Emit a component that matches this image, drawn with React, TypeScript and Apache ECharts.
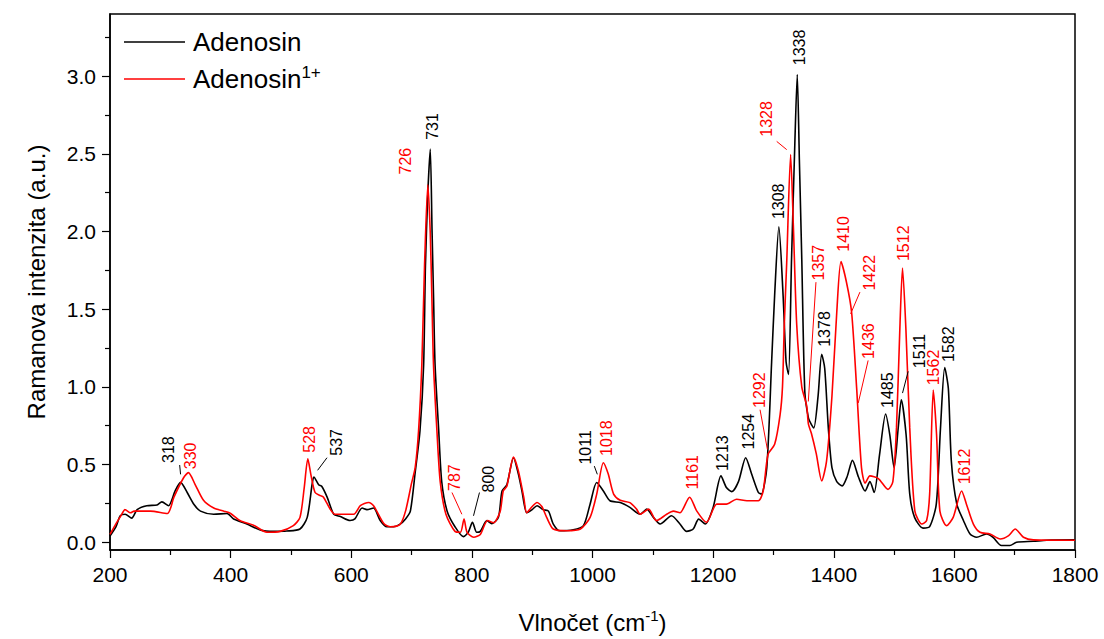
import React, { useEffect, useRef } from "react";
import * as echarts from "echarts";

// Raman spectra: [wavenumber (cm-1), intensity (a.u.)]
const adenosin: [number, number][] = [
  [200, 0.04], [210, 0.1], [217, 0.17], [225, 0.18], [236, 0.155], [245, 0.21], [261, 0.235], [278, 0.24],
  [286, 0.26], [297, 0.235], [308, 0.33], [317, 0.385], [328, 0.32], [339, 0.245], [350, 0.2], [372, 0.18],
  [394, 0.185], [405, 0.15], [427, 0.117], [449, 0.079], [471, 0.07], [493, 0.072], [515, 0.085], [527, 0.16],
  [535, 0.37], [538, 0.42], [546, 0.37], [551, 0.36], [560, 0.29], [571, 0.18], [582, 0.165], [598, 0.14],
  [606, 0.15], [618, 0.22], [626, 0.21], [637, 0.22], [648, 0.14], [659, 0.1], [670, 0.1], [681, 0.117],
  [690, 0.15], [698, 0.2], [706, 0.45], [714, 0.72], [720, 1.14], [723, 1.78], [727, 2.25], [731, 2.53],
  [734, 2.0], [736.5, 1.57], [739, 1.14], [745, 0.72], [750, 0.39], [759, 0.2], [772, 0.1], [786, 0.036],
  [794, 0.064], [801, 0.128], [808, 0.064], [814, 0.07], [825, 0.139], [833, 0.12], [844, 0.16], [850, 0.33],
  [858, 0.37], [869, 0.544], [877, 0.44], [883, 0.33], [891, 0.19], [900, 0.21], [908, 0.235], [918, 0.21],
  [927, 0.2], [935, 0.117], [946, 0.074], [968, 0.08], [985, 0.107], [996, 0.245], [1007, 0.384], [1018, 0.33],
  [1029, 0.267], [1046, 0.255], [1062, 0.224], [1079, 0.18], [1090, 0.213], [1101, 0.16], [1112, 0.117],
  [1131, 0.17], [1145, 0.117], [1156, 0.07], [1167, 0.085], [1176, 0.149], [1187, 0.117], [1200, 0.224],
  [1213, 0.427], [1222, 0.352], [1231, 0.326], [1242, 0.39], [1254, 0.544], [1264, 0.437], [1275, 0.32],
  [1280, 0.31], [1289, 0.48], [1297, 1.16], [1302, 1.59], [1309, 2.03], [1316, 1.59], [1321, 1.16],
  [1325, 1.08], [1330, 1.82], [1335.5, 2.57], [1339.5, 3.01], [1343, 2.46], [1347, 1.82], [1352, 0.97],
  [1358, 0.8], [1363, 0.757], [1367, 0.736], [1374, 0.94], [1380, 1.21], [1385, 1.12], [1391, 0.736],
  [1397, 0.48], [1405, 0.39], [1414, 0.363], [1422, 0.42], [1431, 0.527], [1441, 0.42], [1452, 0.33],
  [1460, 0.39], [1467, 0.32], [1476, 0.565], [1486, 0.825], [1493, 0.69], [1500, 0.48], [1507, 0.74],
  [1512, 0.917], [1520, 0.69], [1526, 0.31], [1534, 0.16], [1548, 0.091], [1559, 0.1], [1570, 0.245],
  [1577, 0.736], [1584, 1.124], [1590, 0.99], [1595, 0.52], [1604, 0.245], [1615, 0.14], [1626, 0.053],
  [1637, 0.032], [1653, 0.053], [1664, 0.032], [1678, -0.021], [1692, -0.021], [1703, 0], [1731, 0.006],
  [1753, 0.013], [1800, 0.015],
];

const adenosinCation: [number, number][] = [
  [200, 0.05], [210, 0.12], [218, 0.17], [225, 0.21], [234, 0.19], [240, 0.2], [267, 0.2], [295, 0.185],
  [306, 0.29], [322, 0.415], [330, 0.448], [341, 0.373], [355, 0.27], [372, 0.22], [389, 0.2], [400, 0.185],
  [416, 0.138], [438, 0.11], [460, 0.064], [482, 0.07], [504, 0.107], [515, 0.16], [522, 0.35], [528, 0.537],
  [533, 0.437], [540, 0.32], [549, 0.3], [554, 0.29], [565, 0.213], [573, 0.18], [604, 0.18], [615, 0.235],
  [629, 0.256], [637, 0.235], [654, 0.12], [665, 0.1], [681, 0.115], [690, 0.2], [700, 0.38], [706, 0.48],
  [711.5, 0.71], [717, 1.14], [721.5, 1.78], [727, 2.3], [731, 1.99], [733.7, 1.57], [736.4, 1.14],
  [742, 0.72], [747.5, 0.39], [757, 0.18], [772, 0.07], [781, 0.064], [787, 0.149], [792, 0.064],
  [803, 0.032], [814, 0.05], [826, 0.14], [836, 0.125], [847, 0.2], [852, 0.33], [858, 0.36], [869, 0.548],
  [877, 0.46], [886, 0.29], [891, 0.19], [900, 0.23], [908, 0.256], [916, 0.23], [924, 0.16], [935, 0.085],
  [957, 0.074], [980, 0.085], [996, 0.16], [1007, 0.31], [1018, 0.512], [1026, 0.44], [1035, 0.31],
  [1046, 0.27], [1062, 0.255], [1073, 0.213], [1079, 0.18], [1093, 0.213], [1106, 0.139], [1123, 0.18],
  [1134, 0.2], [1145, 0.19], [1161, 0.29], [1173, 0.2], [1189, 0.128], [1206, 0.245], [1222, 0.245],
  [1239, 0.277], [1256, 0.267], [1275, 0.267], [1283, 0.33], [1291, 0.565], [1302, 0.63], [1311, 0.82],
  [1315, 1.0], [1318, 1.4], [1322, 1.8], [1328.5, 2.495], [1333, 2.04], [1338.6, 1.4], [1347, 1.0],
  [1355, 0.88], [1358, 0.76], [1363, 0.7], [1371, 0.57], [1380, 0.395], [1388, 0.52], [1397, 0.94],
  [1405, 1.48], [1412, 1.806], [1421, 1.675], [1429.6, 1.48], [1438, 0.99], [1446, 0.48], [1452, 0.38],
  [1460, 0.427], [1474, 0.41], [1490, 0.34], [1498, 0.39], [1504, 0.736], [1509.6, 1.375], [1514, 1.764],
  [1519.6, 1.375], [1526, 0.736], [1534.5, 0.2], [1546, 0.117], [1554, 0.14], [1559, 0.31], [1565, 0.98],
  [1570.5, 0.69], [1576, 0.2], [1587, 0.107], [1598, 0.16], [1612, 0.33], [1620, 0.245], [1631.5, 0.117],
  [1642.5, 0.064], [1659, 0.053], [1676, 0.021], [1690, 0.043], [1701, 0.085], [1714.5, 0.032],
  [1731, 0.015], [1800, 0.013],
];

const yMajorTicks = [0, 0.5, 1.0, 1.5, 2.0, 2.5, 3.0];
const yMinorTicks = [0.25, 0.75, 1.25, 1.75, 2.25, 2.75, 3.25];

const seriesNames = ["Adenosin", "Adenosin1+"];
const BLACK = "#000000";
const RED = "#ff0000";

// Peak labels: text, colour, anchor (wavenumber, intensity), optional leader line
type Ann = { t: string; c: string; x: number; y: number; l?: [number, number, number, number] };
const annotations: Ann[] = [
  { t: "318", c: BLACK, x: 297.6, y: 0.51, l: [315.5, 0.497, 317, 0.437] },
  { t: "330", c: RED, x: 333, y: 0.47 },
  { t: "528", c: RED, x: 530.4, y: 0.576 },
  { t: "537", c: BLACK, x: 576, y: 0.557, l: [559.8, 0.544, 544.2, 0.463] },
  { t: "726", c: RED, x: 690.6, y: 2.367 },
  { t: "731", c: BLACK, x: 734.7, y: 2.59 },
  { t: "787", c: RED, x: 770.7, y: 0.33, l: [767, 0.32, 783.4, 0.18] },
  { t: "800", c: BLACK, x: 827.5, y: 0.32, l: [812.6, 0.32, 802.7, 0.17] },
  { t: "1011", c: BLACK, x: 987.7, y: 0.5, l: [1003, 0.49, 1008, 0.437] },
  { t: "1018", c: RED, x: 1023.7, y: 0.555 },
  { t: "1161", c: RED, x: 1166, y: 0.34 },
  { t: "1213", c: BLACK, x: 1215.6, y: 0.459 },
  { t: "1254", c: BLACK, x: 1258.4, y: 0.597 },
  { t: "1292", c: RED, x: 1276.3, y: 0.864, l: [1277.8, 0.853, 1290, 0.597] },
  { t: "1308", c: BLACK, x: 1308, y: 2.08 },
  { t: "1328", c: RED, x: 1288.8, y: 2.61, l: [1305.4, 2.58, 1322, 2.527] },
  { t: "1338", c: BLACK, x: 1342.7, y: 3.07 },
  { t: "1357", c: RED, x: 1374.3, y: 1.685, l: [1370.5, 1.674, 1357.8, 0.906] },
  { t: "1378", c: BLACK, x: 1384, y: 1.258 },
  { t: "1410", c: RED, x: 1415.7, y: 1.87 },
  { t: "1422", c: RED, x: 1460, y: 1.62, l: [1443.4, 1.61, 1428, 1.47] },
  { t: "1436", c: RED, x: 1457.2, y: 1.18, l: [1457, 1.17, 1440.6, 0.896] },
  { t: "1485", c: BLACK, x: 1489, y: 0.864 },
  { t: "1511", c: BLACK, x: 1543, y: 1.12, l: [1523.4, 1.1, 1514, 0.96] },
  { t: "1512", c: RED, x: 1515, y: 1.81 },
  { t: "1562", c: RED, x: 1565, y: 1.01 },
  { t: "1582", c: BLACK, x: 1590.6, y: 1.16 },
  { t: "1612", c: RED, x: 1616, y: 0.373 },
];

const FONT = "'Liberation Sans', Arial, sans-serif";

export default function App() {
  const ref = useRef<HTMLDivElement>(null);
  useEffect(() => {
    if (!ref.current) return;
    const chart = echarts.init(ref.current, undefined, { renderer: "svg" });
    const axisCommon = {
      axisLine: { show: true, onZero: false, lineStyle: { color: "#000", width: 1.5 } },
      splitLine: { show: false },
    };
    const option: any = {
      animation: false,
      backgroundColor: "#fff",
      grid: {
        left: 110, right: 29, top: 14, bottom: 87,
        show: true, borderColor: "#000", borderWidth: 1.5, backgroundColor: "transparent",
      },
      xAxis: {
        type: "value", min: 200, max: 1800, interval: 200,
        ...axisCommon,
        axisTick: { show: true, inside: false, length: 8, lineStyle: { color: "#000", width: 1.2 } },
        minorTick: { show: true, splitNumber: 2, length: 5, lineStyle: { color: "#000", width: 1.2 } },
        axisLabel: {
          color: "#000", fontSize: 21, fontFamily: FONT, margin: 14,
          formatter: (v: number) => String(Math.round(v)),
        },
        name: "{a|Vlnočet (cm}{s|-1}{a|)}",
        nameLocation: "middle",
        nameGap: 58,
        nameTextStyle: {
          color: "#000", fontFamily: FONT,
          rich: {
            a: { fontSize: 24, fontFamily: FONT, color: "#000", lineHeight: 28 },
            s: { fontSize: 15, fontFamily: FONT, color: "#000", verticalAlign: "top", lineHeight: 14 },
          },
        },
      },
      yAxis: [
        {
          type: "value", min: -0.05, max: 3.4,
          ...axisCommon,
          axisTick: { show: true, length: 8, customValues: yMajorTicks, lineStyle: { color: "#000", width: 1.2 } },
          axisLabel: {
            color: "#000", fontSize: 21, fontFamily: FONT, margin: 14, customValues: yMajorTicks,
            formatter: (v: number) => v.toFixed(1),
          },
          name: "Ramanova intenzita (a.u.)",
          nameLocation: "middle",
          nameRotate: 90,
          nameGap: 62,
          nameTextStyle: { color: "#000", fontSize: 24, fontFamily: FONT },
        },
        {
          type: "value", min: -0.05, max: 3.4, position: "left",
          axisLine: { show: false },
          splitLine: { show: false },
          axisTick: { show: true, length: 5, customValues: yMinorTicks, lineStyle: { color: "#000", width: 1.2 } },
          axisLabel: { show: false },
        },
      ],
      series: [
        {
          name: seriesNames[0], type: "line", data: adenosin, showSymbol: false, smooth: 0.25,
          lineStyle: { color: BLACK, width: 1.6 }, z: 3,
        },
        {
          name: seriesNames[1], type: "line", data: adenosinCation, showSymbol: false, smooth: 0.25,
          lineStyle: { color: RED, width: 1.6 }, z: 4,
        },
      ],
    };
    chart.setOption(option);

    const graphics: any[] = [];
    // legend
    graphics.push(
      { type: "line", shape: { x1: 124, y1: 42, x2: 185, y2: 42 }, style: { stroke: BLACK, lineWidth: 1.6 } },
      { type: "line", shape: { x1: 124, y1: 79, x2: 185, y2: 79 }, style: { stroke: RED, lineWidth: 1.6 } },
      {
        type: "text", x: 193, y: 42,
        style: { text: seriesNames[0], fontSize: 26, fontFamily: FONT, fill: "#000", verticalAlign: "middle", align: "left" },
      },
      {
        type: "text", x: 193, y: 79,
        style: {
          text: "{a|Adenosin}{s|1+}", verticalAlign: "middle", align: "left",
          rich: {
            a: { fontSize: 26, fontFamily: FONT, fill: "#000", lineHeight: 30 },
            s: { fontSize: 17, fontFamily: FONT, fill: "#000", verticalAlign: "top", lineHeight: 16 },
          },
        },
      }
    );
    annotations.forEach((a) => {
      const p = chart.convertToPixel({ gridIndex: 0 }, [a.x, a.y]) as number[];
      graphics.push({
        type: "text", x: p[0], y: p[1], rotation: Math.PI / 2,
        style: { text: a.t, fill: a.c, fontSize: 16, fontFamily: FONT, align: "left", verticalAlign: "middle" },
        z: 10,
      });
      if (a.l) {
        const p1 = chart.convertToPixel({ gridIndex: 0 }, [a.l[0], a.l[1]]) as number[];
        const p2 = chart.convertToPixel({ gridIndex: 0 }, [a.l[2], a.l[3]]) as number[];
        graphics.push({
          type: "line", shape: { x1: p1[0], y1: p1[1], x2: p2[0], y2: p2[1] },
          style: { stroke: a.c, lineWidth: 1 }, z: 10,
        });
      }
    });
    chart.setOption({ graphic: graphics });

    return () => chart.dispose();
  }, []);
  return (
    <div
      ref={ref}
      style={{ position: "fixed", left: 0, top: 0, width: 1104, height: 639, background: "#fff" }}
    />
  );
}
